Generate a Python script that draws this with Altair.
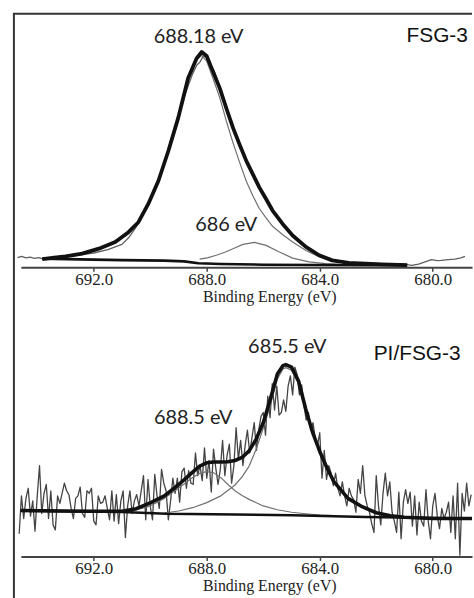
import altair as alt
import pandas as pd

# ---------------- FSG-3 (top panel) ----------------
top_data_E = [694.70, 694.55, 694.40, 694.25, 694.10, 693.95, 693.80, 693.50, 693.00, 692.50,
              692.00, 691.50, 691.00, 690.75, 690.50, 690.25, 690.00, 689.75, 689.50, 689.25,
              689.00, 688.75, 688.50, 688.35, 688.25, 688.15, 688.05, 687.90, 687.75, 687.50,
              687.25, 687.00, 686.75, 686.50, 686.25, 686.00, 685.75, 685.50, 685.25, 685.00,
              684.75, 684.50, 684.25, 684.00, 683.50, 683.00, 682.50, 682.00, 681.50, 681.20,
              680.95, 680.75, 680.50, 680.27, 680.05, 679.85, 679.70, 679.45, 679.21, 679.00,
              678.86]
top_data_I = [3.8, 4.3, 3.7, 4.0, 3.5, 3.8, 3.3, 3.6, 4.1, 4.9,
              5.6, 6.9, 9.0, 11.8, 15.8, 20.8, 26.5, 33.0, 40.6, 49.5,
              59.0, 68.5, 76.0, 79.5, 80.5, 82.5, 83.0, 80.5, 77.5, 70.0,
              61.5, 53.5, 46.5, 40.0, 34.2, 29.0, 24.2, 19.8, 16.0, 12.8,
              10.0, 7.8, 5.8, 4.3, 2.5, 1.7, 1.3, 1.2, 1.3, 1.4,
              1.1, 0.7, 1.2, 2.1, 3.0, 2.6, 2.7, 3.0, 3.2, 3.7,
              4.3]

top_env_E = [693.82, 693.40, 693.00, 692.41, 691.82, 691.24, 690.77, 690.42, 690.07, 689.71,
             689.36, 689.01, 688.66, 688.36, 688.18, 688.00, 687.78, 687.54, 687.31, 687.07,
             686.84, 686.60, 686.37, 686.14, 685.90, 685.67, 685.32, 684.96, 684.49, 684.02,
             683.56, 682.97, 682.38, 681.80, 681.20, 680.90]
top_env_I = [3.2, 3.8, 4.3, 5.35, 7.3, 9.9, 13.8, 17.7, 24.9, 34.0,
             45.7, 58.7, 74.3, 82.1, 84.6, 83.0, 76.9, 70.4, 62.6, 54.8,
             48.3, 41.8, 36.6, 31.4, 26.8, 22.3, 17.1, 12.5, 8.0, 4.7,
             2.7, 1.7, 1.4, 1.1, 0.9, 0.8]

top_c1_E = [693.82, 693.00, 692.41, 691.82, 691.24, 690.77, 690.42, 690.07, 689.71, 689.36,
            689.01, 688.66, 688.36, 688.18, 688.00, 687.78, 687.54, 687.31, 687.07, 686.84,
            686.60, 686.37, 686.14, 685.90, 685.67, 685.32, 684.96, 684.49, 684.02, 683.56,
            682.97, 682.38, 681.80]
top_c1_I = [3.2, 4.2, 5.2, 7.1, 9.7, 13.6, 17.5, 24.7, 33.8, 45.5,
            58.5, 74.0, 81.5, 83.3, 81.0, 74.3, 66.7, 57.6, 48.9, 41.3,
            33.8, 28.1, 23.1, 19.4, 16.1, 12.9, 9.9, 6.6, 4.1, 2.4,
            1.6, 1.3, 1.1]

top_c2_E = [688.25, 687.95, 687.66, 687.36, 687.07, 686.72, 686.31, 685.90, 685.43, 684.96,
            684.38, 683.79, 683.30]
top_c2_I = [3.2, 3.8, 4.7, 5.9, 7.3, 9.0, 9.8, 8.6, 6.0, 3.6,
            2.1, 1.4, 1.1]

top_bg_E = [693.82, 692.50, 691.00, 689.50, 688.80, 688.30, 687.50, 686.00, 684.00, 682.00, 680.97]
top_bg_I = [3.4, 3.1, 2.8, 2.6, 2.3, 1.6, 1.3, 1.0, 0.9, 0.8, 0.8]

top_lab_E = [688.29, 687.31]
top_lab_I = [88.3, 14.2]
top_lab_T = ["688.18 eV", "686 eV"]
top_name_E = [680.93]
top_name_I = [88.7]
top_name_T = ["FSG-3"]

# ---------------- PI/FSG-3 (bottom panel) ----------------
bot_data_E = [694.64, 694.56, 694.48, 694.40, 694.32, 694.24, 694.16, 694.08, 694.00, 693.92,
              693.84, 693.76, 693.68, 693.60, 693.52, 693.44, 693.36, 693.28, 693.20, 693.12,
              693.04, 692.96, 692.88, 692.80, 692.72, 692.64, 692.56, 692.48, 692.40, 692.32,
              692.24, 692.16, 692.08, 692.00, 691.92, 691.84, 691.76, 691.68, 691.60, 691.52,
              691.44, 691.36, 691.28, 691.20, 691.12, 691.04, 690.96, 690.88, 690.80, 690.72,
              690.64, 690.56, 690.48, 690.40, 690.32, 690.24, 690.16, 690.08, 690.00, 689.92,
              689.84, 689.76, 689.68, 689.60, 689.52, 689.44, 689.36, 689.28, 689.20, 689.12,
              689.04, 688.96, 688.88, 688.80, 688.72, 688.64, 688.56, 688.48, 688.40, 688.32,
              688.24, 688.16, 688.08, 688.00, 687.92, 687.84, 687.76, 687.68, 687.60, 687.52,
              687.44, 687.36, 687.28, 687.20, 687.12, 687.04, 686.96, 686.88, 686.80, 686.72,
              686.64, 686.56, 686.48, 686.40, 686.32, 686.24, 686.16, 686.08, 686.00, 685.92,
              685.84, 685.76, 685.68, 685.60, 685.52, 685.44, 685.36, 685.28, 685.20, 685.12,
              685.04, 684.96, 684.88, 684.80, 684.72, 684.64, 684.56, 684.48, 684.40, 684.32,
              684.24, 684.16, 684.08, 684.00, 683.92, 683.84, 683.76, 683.68, 683.60, 683.52,
              683.44, 683.36, 683.28, 683.20, 683.12, 683.04, 682.96, 682.88, 682.80, 682.72,
              682.64, 682.56, 682.48, 682.40, 682.32, 682.24, 682.16, 682.08, 682.00, 681.92,
              681.84, 681.76, 681.68, 681.60, 681.52, 681.44, 681.36, 681.28, 681.20, 681.12,
              681.04, 680.96, 680.88, 680.80, 680.72, 680.64, 680.56, 680.48, 680.40, 680.32,
              680.24, 680.16, 680.08, 680.00, 679.92, 679.84, 679.76, 679.68, 679.60, 679.52,
              679.44, 679.36, 679.28, 679.20, 679.12, 679.04, 678.96, 678.88, 678.80, 678.72,
              678.64]
bot_data_I = [9.0, 24.0, 15.0, 23.0, 27.0, 16.0, 22.0, 10.0, 24.0, 36.0,
              17.0, 25.0, 28.5, 15.0, 26.0, 12.5, 10.5, 24.0, 21.0, 25.0,
              29.0, 26.0, 24.5, 19.0, 15.0, 23.0, 24.0, 27.5, 17.0, 15.5,
              26.0, 25.0, 27.0, 14.0, 12.5, 24.0, 21.0, 21.5, 24.0, 19.0,
              14.5, 26.0, 14.0, 24.5, 13.0, 22.0, 26.0, 7.5, 20.0, 26.0,
              17.0, 22.0, 24.5, 20.0, 26.0, 32.0, 14.5, 30.5, 20.0, 14.5,
              32.5, 24.0, 19.0, 34.5, 29.0, 26.0, 14.5, 22.0, 31.0, 25.0,
              31.0, 21.5, 33.5, 35.0, 27.0, 34.0, 29.0, 28.5, 41.0, 32.0,
              36.0, 30.0, 43.0, 31.0, 38.0, 25.5, 42.5, 35.0, 28.5, 34.5,
              46.0, 32.0, 40.0, 44.5, 29.0, 36.0, 51.0, 38.5, 46.0, 36.0,
              44.0, 50.0, 41.0, 47.0, 53.0, 42.0, 50.0, 55.5, 57.0, 48.0,
              63.5, 55.0, 68.5, 58.0, 67.5, 56.0, 57.0, 62.0, 57.5, 67.5,
              71.5, 64.0, 75.0, 72.0, 64.0, 68.0, 60.0, 54.0, 57.0, 50.0,
              53.0, 47.0, 44.0, 49.0, 31.0, 42.0, 30.5, 36.0, 33.0, 28.0,
              33.0, 27.0, 24.0, 29.5, 24.0, 20.0, 27.0, 24.0, 22.5, 17.5,
              30.5, 25.0, 36.0, 24.0, 20.0, 17.5, 13.0, 9.5, 32.0, 20.0,
              12.5, 25.0, 33.0, 24.0, 29.5, 17.5, 14.0, 9.5, 25.5, 7.0,
              21.5, 26.5, 21.0, 25.5, 12.0, 24.0, 8.5, 21.5, 14.0, 12.0,
              26.5, 14.0, 7.0, 20.0, 25.0, 16.0, 11.0, 19.0, 15.0, 17.5,
              21.5, 9.5, 24.0, 7.0, 29.0, 0.5, 25.0, 18.0, 29.0, 20.0,
              24.5]

bot_env_E = [694.58, 693.00, 692.00, 691.00, 690.50, 690.00, 689.50, 689.00, 688.50, 688.25,
             688.00, 687.75, 687.50, 687.25, 687.00, 686.75, 686.50, 686.25, 686.00, 685.75,
             685.50, 685.30, 685.20, 685.00, 684.75, 684.50, 684.25, 684.00, 683.75, 683.50,
             683.00, 682.50, 682.00, 681.50, 681.00, 680.00, 678.61]
bot_env_I = [18.2, 18.0, 17.9, 17.9, 18.9, 21.2, 24.0, 28.4, 33.4, 35.8,
             37.1, 37.4, 37.4, 37.5, 38.0, 39.2, 41.8, 46.5, 53.0, 62.3,
             72.3, 75.6, 76.0, 75.0, 69.5, 58.5, 49.0, 41.6, 35.2, 29.6,
             23.0, 19.7, 17.3, 16.1, 15.5, 15.0, 15.0]

bot_cA_E = [691.50, 690.50, 690.00, 689.50, 689.00, 688.50, 688.25, 688.00, 687.75, 687.50,
            687.25, 687.00, 686.75, 686.50, 686.00, 685.50, 685.00, 684.50, 684.00, 683.50]
bot_cA_I = [17.9, 18.4, 20.0, 23.0, 27.0, 31.3, 32.9, 33.6, 33.1, 31.2,
            28.5, 26.0, 24.1, 22.6, 20.0, 18.5, 17.5, 16.9, 16.4, 16.2]

bot_cB_E = [689.50, 689.00, 688.50, 688.00, 687.50, 687.00, 686.75, 686.50, 686.25, 686.00,
            685.75, 685.50, 685.30, 685.20, 685.00, 684.75, 684.50, 684.25, 684.00, 683.75,
            683.50, 683.00, 682.50, 682.00, 681.50, 681.00, 680.50]
bot_cB_I = [17.2, 18.0, 19.3, 21.3, 24.0, 28.3, 31.5, 35.8, 42.5, 50.8,
            60.0, 70.3, 74.3, 74.8, 73.8, 68.4, 57.9, 48.6, 41.3, 35.0,
            29.4, 22.8, 19.6, 17.2, 16.0, 15.4, 15.1]

bot_bg_E = [694.60, 691.00, 689.42, 687.00, 684.97, 682.38, 678.61]
bot_bg_I = [18.1, 17.6, 16.9, 16.6, 16.3, 15.6, 15.0]

bot_lab_E = [685.15, 688.48]
bot_lab_I = [80.6, 52.4]
bot_lab_T = ["685.5 eV", "688.5 eV"]
bot_name_E = [682.09]
bot_name_I = [77.7]
bot_name_T = ["PI/FSG-3"]

tick_values = [692, 688, 684, 680]
x_domain = [678.61, 694.58]

W = 454
H_TOP = 255
H_BOT = 254
GAP = 37

xscale = alt.Scale(domain=x_domain, reverse=True, nice=False, zero=False)
xaxis = alt.Axis(values=tick_values, format=".1f", title="Binding Energy (eV)",
                 titleFont="Liberation Serif", titleFontSize=16, titleFontWeight="normal",
                 titleColor="#222222", titleX=250, titleAlign="center",
                 labelFont="Liberation Serif", labelFontSize=17,
                 labelColor="#222222", tickSize=4, tickColor="#444444", tickWidth=1.5,
                 domainColor="#444444", domainWidth=2, labelPadding=0, titlePadding=1,
                 grid=False, labelFlush=False, labelOverlap=False)


def line(E, I, yscale, color, width):
    df = pd.DataFrame({"E": E, "I": I})
    return alt.Chart(df).mark_line(color=color, strokeWidth=width, strokeJoin="round").encode(
        x=alt.X("E:Q", scale=xscale, axis=xaxis),
        y=alt.Y("I:Q", scale=yscale, axis=None),
    )


def texts(E, I, T, yscale, font, size, align, color):
    df = pd.DataFrame({"E": E, "I": I, "T": T})
    return alt.Chart(df).mark_text(font=font, fontSize=size, align=align,
                                   baseline="alphabetic", color=color).encode(
        x=alt.X("E:Q", scale=xscale, axis=xaxis),
        y=alt.Y("I:Q", scale=yscale, axis=None),
        text="T:N",
    )


one = pd.DataFrame({"k": [0]})
FRAME = "#333333"

# top panel (also carries the frame lines: top edge and full-height left edge)
ys_top = alt.Scale(domain=[0, 99.6], nice=False, zero=False)
top = alt.layer(
    line(top_data_E, top_data_I, ys_top, "#606060", 1.3),
    line(top_c1_E, top_c1_I, ys_top, "#707070", 1.2),
    line(top_c2_E, top_c2_I, ys_top, "#707070", 1.2),
    line(top_bg_E, top_bg_I, ys_top, "#111111", 2.6),
    line(top_env_E, top_env_I, ys_top, "#111111", 3.8),
    texts(top_lab_E, top_lab_I, top_lab_T, ys_top, "Lato", 20, "center", "#222222"),
    texts(top_name_E, top_name_I, top_name_T, ys_top, "Liberation Sans", 21, "left", "#111111"),
    alt.Chart(one).mark_rule(color=FRAME, strokeWidth=2).encode(
        x=alt.value(-7), y=alt.value(0), y2=alt.value(600)),
    alt.Chart(one).mark_rule(color=FRAME, strokeWidth=2).encode(
        x=alt.value(-8), x2=alt.value(W), y=alt.value(0)),
).properties(width=W, height=H_TOP)

# bottom panel
ys_bot = alt.Scale(domain=[0, 100], nice=False, zero=False)
bottom = alt.layer(
    line(bot_data_E, bot_data_I, ys_bot, "#444444", 1.3),
    line(bot_cA_E, bot_cA_I, ys_bot, "#707070", 1.2),
    line(bot_cB_E, bot_cB_I, ys_bot, "#707070", 1.2),
    line(bot_bg_E, bot_bg_I, ys_bot, "#111111", 2.4),
    line(bot_env_E, bot_env_I, ys_bot, "#111111", 3.6),
    texts(bot_lab_E, bot_lab_I, bot_lab_T, ys_bot, "Lato", 20, "center", "#222222"),
    texts(bot_name_E, bot_name_I, bot_name_T, ys_bot, "Liberation Sans", 21, "left", "#111111"),
).properties(width=W, height=H_BOT)

chart = alt.vconcat(top, bottom, spacing=GAP, bounds="flush").properties(
    padding={"left": 12, "top": 11, "right": 0, "bottom": 0},
    background="white",
).configure_view(stroke=None)

chart.save("out.html", embed_options={"renderer": "svg", "actions": False})
